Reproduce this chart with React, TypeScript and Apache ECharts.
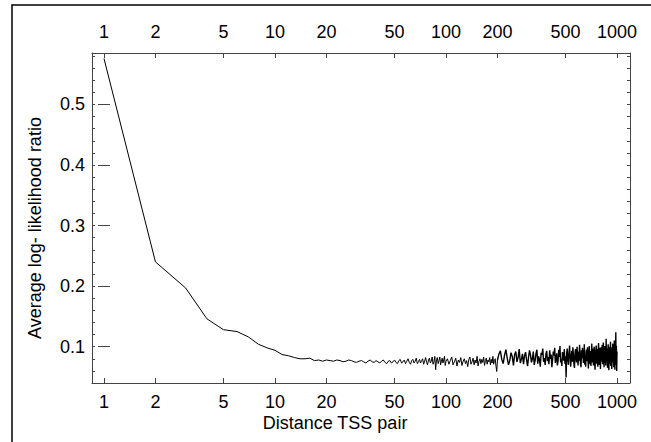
import React, { useEffect, useRef } from "react";
import * as echarts from "echarts";

// Distances 1..20 (step 1)
const segA = [0.576, 0.240, 0.197, 0.146, 0.128, 0.125, 0.116, 0.104, 0.098, 0.094, 0.087, 0.085, 0.082, 0.080, 0.080, 0.081, 0.077, 0.078, 0.076, 0.078];
// Distances 21..100 (step 1)
const segB = [
  0.077, 0.076, 0.078, 0.077, 0.075, 0.076, 0.078, 0.077, 0.075, 0.074,
  0.076, 0.077, 0.075, 0.073, 0.076, 0.078, 0.075, 0.074, 0.077, 0.075,
  0.073, 0.076, 0.078, 0.074, 0.072, 0.076, 0.077, 0.073, 0.075, 0.078,
  0.074, 0.072, 0.077, 0.079, 0.073, 0.075, 0.078, 0.072, 0.076, 0.080,
  0.074, 0.071, 0.077, 0.079, 0.073, 0.076, 0.081, 0.072, 0.075, 0.079,
  0.073, 0.077, 0.080, 0.071, 0.076, 0.082, 0.074, 0.070, 0.078, 0.081,
  0.073, 0.076, 0.083, 0.071, 0.075, 0.084, 0.062, 0.079, 0.082, 0.072,
  0.077, 0.083, 0.070, 0.076, 0.081, 0.073, 0.078, 0.084, 0.069, 0.076,
];
// Distances 102..200 (step 2)
const segC = [
  0.080, 0.071, 0.077, 0.083, 0.070, 0.075, 0.081, 0.068, 0.078, 0.074,
  0.082, 0.069, 0.076, 0.080, 0.072, 0.077, 0.067, 0.079, 0.083, 0.071,
  0.075, 0.081, 0.070, 0.078, 0.073, 0.084, 0.068, 0.076, 0.080, 0.072,
  0.079, 0.074, 0.083, 0.069, 0.077, 0.081, 0.071, 0.078, 0.075, 0.082,
  0.070, 0.079, 0.073, 0.084, 0.071, 0.077, 0.080, 0.068, 0.059, 0.078,
];
// Distances 204..1000 (step 4)
const segD = [
  0.088, 0.093, 0.079, 0.072, 0.086, 0.095, 0.081, 0.070, 0.077, 0.090,
  0.084, 0.069, 0.087, 0.092, 0.075, 0.082, 0.096, 0.073, 0.079, 0.088,
  0.071, 0.085, 0.091, 0.078, 0.068, 0.083, 0.094, 0.086, 0.074, 0.080,
  0.092, 0.070, 0.077, 0.089, 0.095, 0.072, 0.084, 0.079, 0.067, 0.090,
  0.086, 0.097, 0.075, 0.081, 0.070, 0.088, 0.093, 0.076, 0.083, 0.071,
  0.094, 0.080, 0.087, 0.066, 0.078, 0.092, 0.085, 0.098, 0.073, 0.082,
  0.089, 0.069, 0.076, 0.095, 0.083, 0.101, 0.074, 0.080, 0.068, 0.091,
  0.086, 0.077, 0.096, 0.072, 0.084,
  0.049, 0.090, 0.097, 0.078, 0.070, 0.088, 0.102, 0.083, 0.067, 0.081,
  0.093, 0.075, 0.099, 0.086, 0.071, 0.065, 0.089, 0.096, 0.080, 0.074,
  0.100, 0.084, 0.069, 0.092, 0.077, 0.103, 0.087, 0.072, 0.066, 0.094,
  0.081, 0.098, 0.090, 0.073, 0.079, 0.104, 0.070, 0.085, 0.067, 0.091,
  0.095, 0.076, 0.099, 0.082, 0.064, 0.088, 0.101, 0.078, 0.071, 0.093,
  0.068, 0.087, 0.105, 0.074, 0.083, 0.097, 0.069, 0.090, 0.100, 0.076,
  0.062, 0.085, 0.094, 0.102, 0.072, 0.080, 0.096, 0.067, 0.089, 0.106,
  0.078, 0.070, 0.098, 0.091, 0.063, 0.084, 0.099, 0.075, 0.093, 0.103,
  0.071, 0.087, 0.107, 0.080, 0.066, 0.095, 0.101, 0.073, 0.088, 0.069,
  0.113, 0.082, 0.076, 0.097, 0.065, 0.090, 0.104, 0.079, 0.061, 0.094,
  0.100, 0.072, 0.086, 0.108, 0.068, 0.092, 0.077, 0.063, 0.099, 0.085,
  0.105, 0.074, 0.096, 0.066, 0.089, 0.110, 0.075, 0.062, 0.097, 0.083,
  0.124, 0.070, 0.101, 0.060, 0.092,
];
const segments = [
  { start: 1, step: 1, values: segA },
  { start: 21, step: 1, values: segB },
  { start: 102, step: 2, values: segC },
  { start: 204, step: 4, values: segD },
];

const xTickLabels = [1, 2, 5, 10, 20, 50, 100, 200, 500, 1000];
const yTickLabels = [0.1, 0.2, 0.3, 0.4, 0.5];
const xTitle = "Distance TSS pair";
const yTitle = "Average log- likelihood ratio";

const FONT = "Liberation Sans, Arial, Helvetica, sans-serif";
const FS = 18;

export default function App() {
  const ref = useRef<HTMLDivElement>(null);
  useEffect(() => {
    if (!ref.current) return;
    const chart = echarts.init(ref.current, null, { renderer: "svg" });
    const data: [number, number][] = [];
    segments.forEach((s) => {
      s.values.forEach((v, i) => data.push([Math.log10(s.start + i * s.step), v]));
    });
    const splitAt = Math.log10(200);
    const dataLow = data.filter((p) => p[0] <= splitAt + 1e-9);
    const dataHigh = data.filter((p) => p[0] >= splitAt - 1e-9);
    const xPos = xTickLabels.map((t) => Math.log10(t));
    const axisColor = "#444";
    const xAxisBase = (position: "top" | "bottom", margin: number) => ({
      type: "value",
      position,
      min: -0.07,
      max: 3.076,
      axisLine: { show: true, onZero: false, lineStyle: { color: axisColor, width: 1 } },
      axisTick: { show: true, inside: true, length: 5, customValues: xPos, lineStyle: { color: axisColor } },
      axisLabel: {
        show: true,
        customValues: xPos,
        formatter: (v: number) => String(Math.round(Math.pow(10, v))),
        color: "#000",
        fontSize: FS,
        fontFamily: FONT,
        margin,
      },
      splitLine: { show: false },
    });
    const yMinor = (position: "left" | "right", labels: boolean) => ({
      type: "value",
      position,
      min: 0.04,
      max: 0.585,
      interval: 0.02,
      axisLine: { show: true, onZero: false, lineStyle: { color: axisColor, width: 1 } },
      axisTick: { show: true, inside: true, length: 3, lineStyle: { color: axisColor } },
      axisLabel: {
        show: labels,
        customValues: yTickLabels,
        formatter: (v: number) => v.toFixed(1),
        color: "#000",
        fontSize: FS,
        fontFamily: FONT,
        margin: 7,
      },
      splitLine: { show: false },
    });
    const yMajor = (position: "left" | "right") => ({
      type: "value",
      position,
      min: 0.04,
      max: 0.585,
      axisLine: { show: false },
      axisTick: { show: true, inside: true, length: 6, customValues: yTickLabels, lineStyle: { color: axisColor } },
      axisLabel: { show: false },
      splitLine: { show: false },
    });
    chart.setOption({
      animation: false,
      backgroundColor: "#fff",
      grid: { left: 92, right: 21, top: 53, bottom: 59, containLabel: false },
      xAxis: [xAxisBase("bottom", 10), xAxisBase("top", 12)],
      yAxis: [yMinor("left", true), yMajor("left"), yMinor("right", false), yMajor("right")],
      graphic: [
        {
          type: "rect",
          shape: { x: 12, y: 5, width: 700, height: 500 },
          style: { fill: "none", stroke: "#000", lineWidth: 1.5 },
          silent: true,
        },
        {
          type: "text",
          x: 335,
          y: 423,
          style: {
            text: xTitle,
            fill: "#000",
            fontSize: FS,
            fontFamily: FONT,
            textAlign: "center",
            textVerticalAlign: "middle",
          },
          silent: true,
        },
        {
          type: "text",
          x: 35,
          y: 228,
          rotation: Math.PI / 2,
          style: {
            text: yTitle,
            fill: "#000",
            fontSize: FS,
            fontFamily: FONT,
            textAlign: "center",
            textVerticalAlign: "middle",
          },
          silent: true,
        },
      ],
      series: [
        {
          type: "line",
          xAxisIndex: 0,
          yAxisIndex: 0,
          data: dataLow,
          showSymbol: false,
          symbol: "none",
          lineStyle: { color: "#000", width: 1 },
        },
        {
          type: "line",
          xAxisIndex: 0,
          yAxisIndex: 0,
          data: dataHigh,
          showSymbol: false,
          symbol: "none",
          lineStyle: { color: "#000", width: 1.4 },
        },
      ],
    });
    return () => chart.dispose();
  }, []);
  return (
    <div
      ref={ref}
      style={{ position: "fixed", left: 0, top: 0, width: 651, height: 442, background: "#fff" }}
    />
  );
}
